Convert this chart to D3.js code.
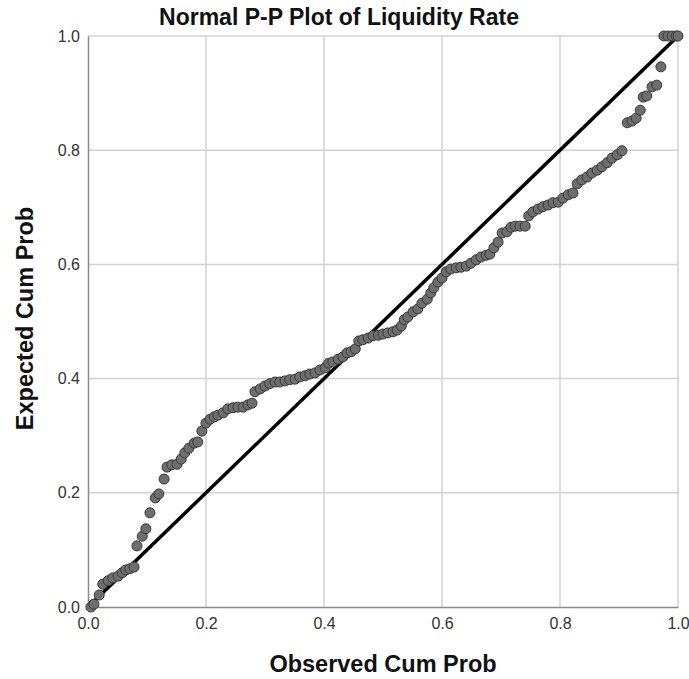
<!DOCTYPE html>
<html>
<head>
<meta charset="utf-8">
<script src="https://cdn.jsdelivr.net/npm/d3@7"></script>
<style>
  body { margin: 0; background: #fff; }
  svg { font-family: Arial, "Liberation Sans", sans-serif; }
</style>
</head>
<body>
<div id="chart"></div>
<script>
// values
var observedCumProb = [
  0.005, 0.010, 0.019, 0.025, 0.034, 0.042, 0.051, 0.058, 0.064, 0.071,
  0.078, 0.083, 0.092, 0.098, 0.105, 0.114, 0.120, 0.129, 0.134, 0.142,
  0.151, 0.158, 0.164, 0.171, 0.180, 0.186, 0.193, 0.200, 0.207, 0.214,
  0.220, 0.229, 0.237, 0.246, 0.254, 0.263, 0.271, 0.278, 0.283, 0.292,
  0.300, 0.308, 0.317, 0.325, 0.334, 0.342, 0.351, 0.359, 0.368, 0.376,
  0.385, 0.393, 0.402, 0.408, 0.415, 0.424, 0.432, 0.439, 0.446, 0.453,
  0.459, 0.466, 0.475, 0.483, 0.492, 0.500, 0.508, 0.517, 0.524, 0.531,
  0.536, 0.542, 0.551, 0.559, 0.566, 0.575, 0.581, 0.586, 0.593, 0.600,
  0.607, 0.615, 0.624, 0.632, 0.641, 0.649, 0.658, 0.666, 0.675, 0.681,
  0.688, 0.695, 0.702, 0.710, 0.717, 0.724, 0.732, 0.741, 0.747, 0.754,
  0.763, 0.771, 0.780, 0.788, 0.797, 0.805, 0.814, 0.822, 0.829, 0.837,
  0.846, 0.854, 0.863, 0.871, 0.880, 0.888, 0.897, 0.905, 0.914, 0.922,
  0.929, 0.936, 0.941, 0.947, 0.956, 0.964, 0.971, 0.976, 0.983, 0.990,
  0.997, 1.000
];
var expectedCumProb = [
  0.000, 0.005, 0.021, 0.040, 0.046, 0.051, 0.054, 0.060, 0.065, 0.067,
  0.070, 0.107, 0.124, 0.137, 0.165, 0.191, 0.198, 0.224, 0.245, 0.249,
  0.250, 0.259, 0.270, 0.278, 0.287, 0.289, 0.308, 0.322, 0.329, 0.333,
  0.336, 0.340, 0.347, 0.349, 0.350, 0.350, 0.354, 0.357, 0.377, 0.382,
  0.387, 0.391, 0.394, 0.394, 0.396, 0.398, 0.399, 0.403, 0.405, 0.408,
  0.410, 0.415, 0.419, 0.427, 0.429, 0.434, 0.438, 0.445, 0.447, 0.452,
  0.466, 0.468, 0.471, 0.475, 0.476, 0.478, 0.480, 0.482, 0.485, 0.492,
  0.503, 0.508, 0.517, 0.522, 0.532, 0.539, 0.550, 0.559, 0.569, 0.576,
  0.587, 0.592, 0.594, 0.595, 0.597, 0.602, 0.608, 0.613, 0.616, 0.618,
  0.629, 0.639, 0.655, 0.657, 0.665, 0.667, 0.667, 0.667, 0.685, 0.692,
  0.697, 0.701, 0.704, 0.708, 0.709, 0.716, 0.722, 0.725, 0.741, 0.748,
  0.753, 0.760, 0.765, 0.771, 0.778, 0.786, 0.792, 0.799, 0.848, 0.851,
  0.856, 0.870, 0.893, 0.895, 0.911, 0.914, 0.946, 1.000, 1.000, 1.000,
  1.000, 1.000
];
var tickValues = [0, 0.2, 0.4, 0.6, 0.8, 1.0];

var width = 689, height = 679;
var margin = {top: 36, right: 11, bottom: 72, left: 88};

var svg = d3.select("#chart").append("svg")
    .attr("width", width)
    .attr("height", height);

var x = d3.scaleLinear().domain([0, 1]).range([margin.left, width - margin.right]);
var y = d3.scaleLinear().domain([0, 1]).range([height - margin.bottom, margin.top]);

// grid
svg.append("g").selectAll("line.vg")
    .data(tickValues.slice(1))
    .enter().append("line")
    .attr("x1", d => x(d)).attr("x2", d => x(d))
    .attr("y1", y(0)).attr("y2", y(1))
    .attr("stroke", "#d2d2d2").attr("stroke-width", 1.5);

svg.append("g").selectAll("line.hg")
    .data(tickValues.slice(1))
    .enter().append("line")
    .attr("x1", x(0)).attr("x2", x(1))
    .attr("y1", d => y(d)).attr("y2", d => y(d))
    .attr("stroke", "#d2d2d2").attr("stroke-width", 1.5);

// axes
var xAxis = svg.append("g")
    .attr("transform", "translate(0," + y(0) + ")")
    .call(d3.axisBottom(x).tickValues(tickValues).tickFormat(d3.format(".1f")).tickSize(0).tickPadding(11));
var yAxis = svg.append("g")
    .attr("transform", "translate(" + x(0) + ",0)")
    .call(d3.axisLeft(y).tickValues(tickValues).tickFormat(d3.format(".1f")).tickSize(0).tickPadding(8));

[xAxis, yAxis].forEach(function (a) {
    a.select(".domain").attr("stroke", "#8c8c8c").attr("stroke-width", 1.5);
    a.selectAll("text")
        .style("font-family", "Arial, 'Liberation Sans', sans-serif")
        .style("font-size", "16px")
        .attr("fill", "#333");
});

// reference diagonal
svg.append("line")
    .attr("x1", x(0)).attr("y1", y(0))
    .attr("x2", x(1)).attr("y2", y(1))
    .attr("stroke", "#000").attr("stroke-width", 3.5);

// points
var pts = observedCumProb.map(function (d, i) { return {o: d, e: expectedCumProb[i]}; });
svg.append("g").selectAll("circle")
    .data(pts)
    .enter().append("circle")
    .attr("cx", d => x(d.o))
    .attr("cy", d => y(d.e))
    .attr("r", 5)
    .attr("fill", "#6e6e6e")
    .attr("stroke", "#383838")
    .attr("stroke-width", 1);

// titles
svg.append("text")
    .attr("x", 339).attr("y", 25)
    .style("text-anchor", "middle")
    .style("font-weight", "bold")
    .style("font-size", "23px")
    .attr("fill", "#111")
    .text("Normal P-P Plot of Liquidity Rate");

svg.append("text")
    .attr("x", (x(0) + x(1)) / 2).attr("y", 672)
    .style("text-anchor", "middle")
    .style("font-weight", "bold")
    .style("font-size", "23.5px")
    .attr("fill", "#111")
    .text("Observed Cum Prob");

svg.append("text")
    .attr("transform", "translate(33," + ((y(0) + y(1)) / 2 - 3) + ") rotate(-90)")
    .style("text-anchor", "middle")
    .style("font-weight", "bold")
    .style("font-size", "23.5px")
    .attr("fill", "#111")
    .text("Expected Cum Prob");
</script>
</body>
</html>
